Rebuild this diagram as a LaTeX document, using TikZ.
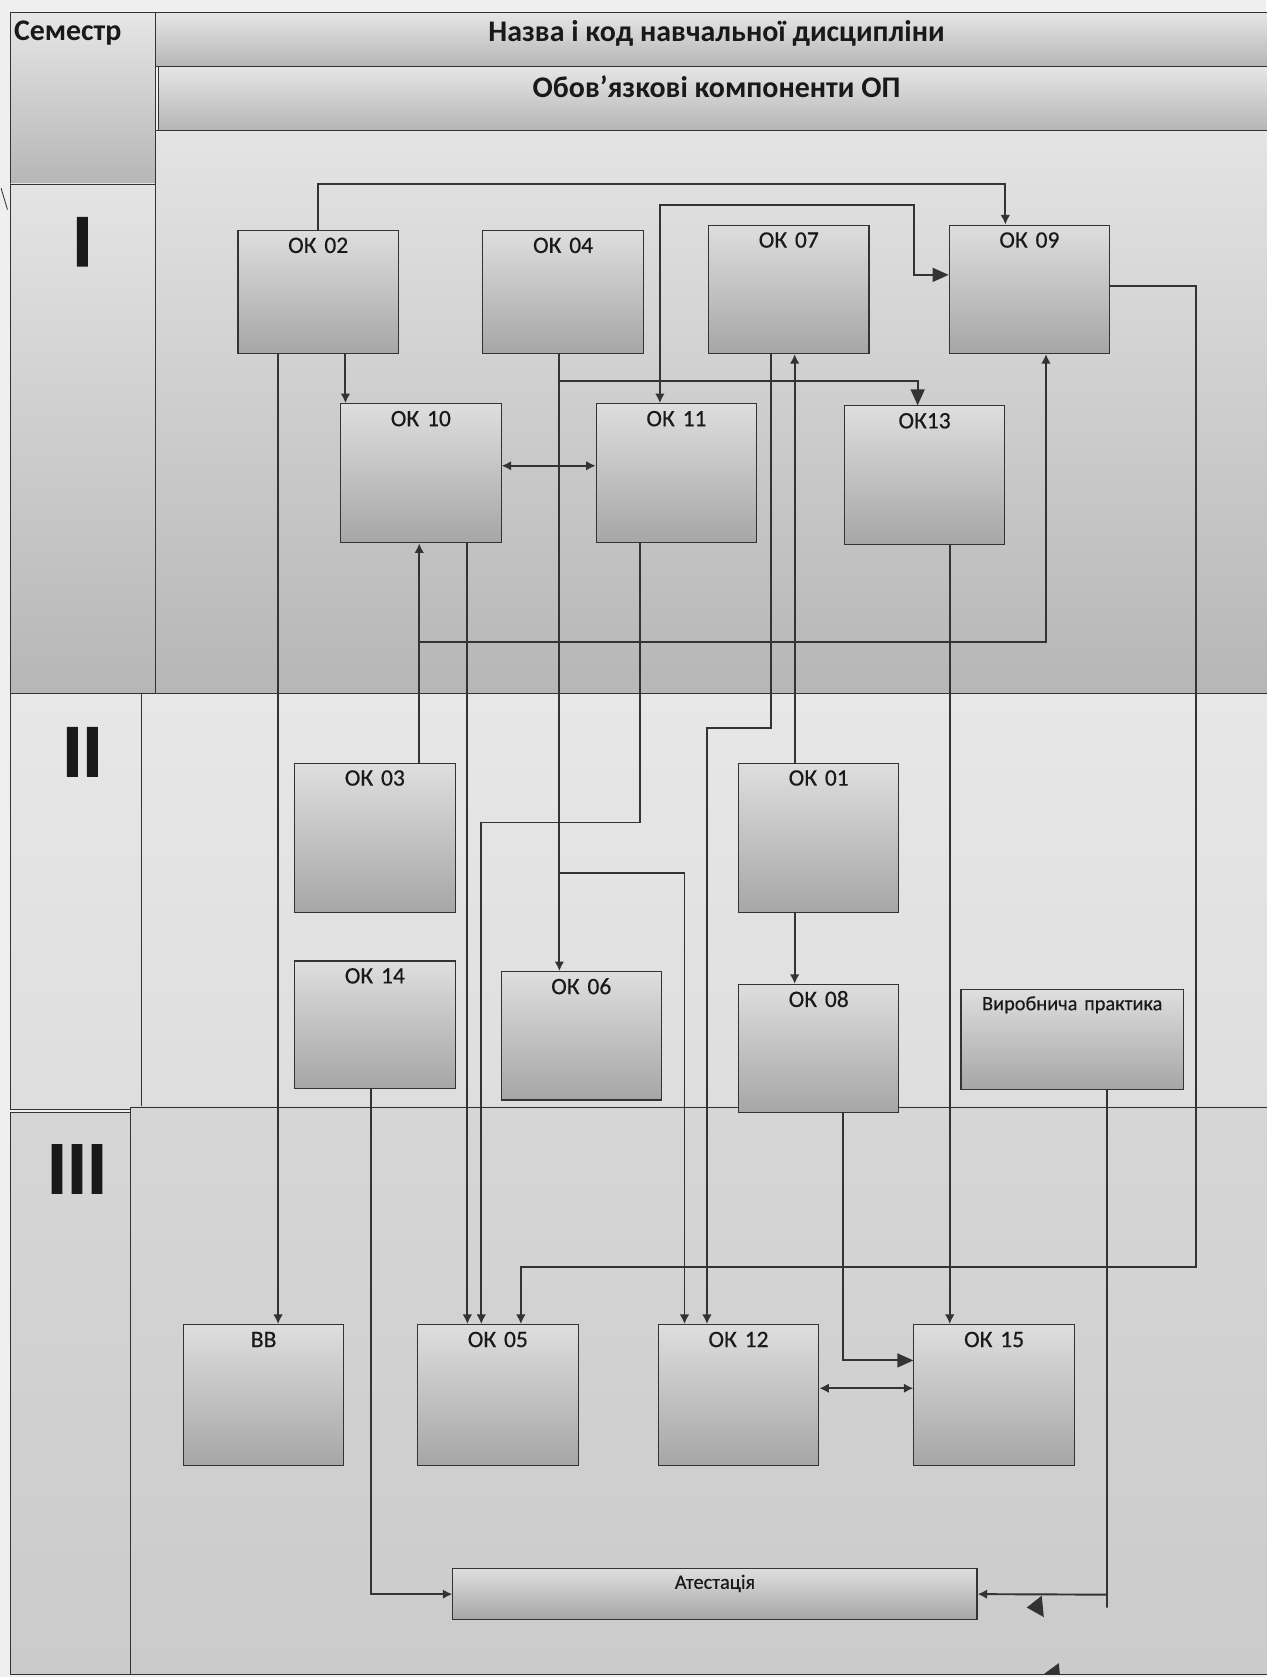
\documentclass[tikz,border=0pt]{standalone}
\usepackage{fontspec}
\setmainfont{Carlito}
\usetikzlibrary{arrows.meta}

\definecolor{pagegray}{HTML}{EFEFEF}
\definecolor{linegray}{HTML}{333333}
\definecolor{hdtop}{HTML}{E6E6E6}
\definecolor{hdbot}{HTML}{B6B6B6}
\definecolor{semItop}{HTML}{E4E4E4}
\definecolor{semIbot}{HTML}{B6B6B6}
\definecolor{semIItop}{HTML}{E7E7E7}
\definecolor{semIIbot}{HTML}{DEDEDE}
\definecolor{semIIItop}{HTML}{D6D6D6}
\definecolor{semIIIbot}{HTML}{CBCBCB}
\definecolor{boxtop}{HTML}{DEDEDE}
\definecolor{boxbot}{HTML}{A6A6A6}

\tikzset{
  okbox/.style={draw=linegray, line width=1pt, top color=boxtop, bottom color=boxbot,
    anchor=north west, text width=144pt, align=center, inner xsep=3pt, inner ysep=6pt,
    text height=15pt, text depth=#1, text=black!90,
    font=\fontsize{22}{24}\selectfont\addfontfeature{FakeBold=0.4}},
  widebox/.style 2 args={okbox=#2, text width=#1, text height=12pt, inner ysep=7pt,
    font=\fontsize{19}{21}\selectfont\addfontfeature{FakeBold=0.4}},
  hdtext/.style={text=black!90, font=\bfseries\fontsize{28}{30}\selectfont, inner sep=0pt},
  roman/.style={text=black!90, font=\bfseries\fontsize{70}{70}\selectfont\addfontfeature{FakeBold=1.6}, inner sep=0pt},
  cell/.style={draw=linegray, line width=0.8pt},
  link/.style={draw=linegray, line width=1.8pt, -{Latex[length=9pt,width=9pt]}},
  biglink/.style={link, -{Triangle[length=15pt,width=13pt]}},
  twolink/.style={link, {Latex[length=9pt,width=9pt]}-{Latex[length=9pt,width=9pt]}},
}

\begin{document}
\begin{tikzpicture}[x=1pt, y=-1pt]
    \useasboundingbox (0,0) rectangle (1184,1568);
    \fill[pagegray] (0,0) rectangle (1184,1568);

    % Header cells
    \shadedraw[cell, top color=hdtop, bottom color=hdbot] (10,12) rectangle (145,172);
    \shadedraw[cell, top color=hdtop, bottom color=hdbot] (145,12) rectangle (1190,62);
    \shadedraw[cell, top color=hdtop, bottom color=hdbot] (148,62) rectangle (1190,122);

    % Semester rows
    \shadedraw[cell, top color=semItop, bottom color=semIbot] (10,172) rectangle (145,648);
    \shadedraw[cell, top color=semItop, bottom color=semIbot] (145,122) rectangle (1190,648);
    \shadedraw[cell, top color=semIItop, bottom color=semIIbot] (10,648) rectangle (132,1037);
    \shadedraw[cell, top color=semIItop, bottom color=semIIbot] (132,648) rectangle (1190,1037);
    \shadedraw[cell, top color=semIIItop, bottom color=semIIIbot] (10,1040) rectangle (122,1566);
    \shadedraw[cell, top color=semIIItop, bottom color=semIIIbot] (122,1035) rectangle (1190,1566);

    % Header texts
    \node[hdtext, anchor=west] (semestr) at (13,31) {Семестр};
    \node[hdtext] (nazva) at (670,31) {Назва і код навчальної дисципліни};
    \node[hdtext] (oblig) at (670,81) {Обов’язкові компоненти ОП};
    \node[roman] (semI) at (77,226) {I};
    \node[roman] (semII) at (77,703) {II};
    \node[roman] (semIII) at (72,1093) {III};

    % Semester I
    \node[okbox=88] (ok02) at (222,215) {ОК 02};
    \node[okbox=88] (ok04) at (451,215) {ОК 04};
    \node[okbox=93] (ok07) at (662,210) {ОК 07};
    \node[okbox=93] (ok09) at (887,210) {ОК 09};
    \node[okbox=103] (ok10) at (318,377) {ОК 10};
    \node[okbox=103] (ok11) at (557,377) {ОК 11};
    \node[okbox=103] (ok13) at (789,379) {ОК13};

    % Semester II
    \node[okbox=113] (ok03) at (275,713) {ОК 03};
    \node[okbox=113] (ok01) at (690,713) {ОК 01};
    \node[okbox=92] (ok14) at (275,898) {ОК 14};
    \node[okbox=93] (ok06) at (468,908) {ОК 06};
    \node[okbox=93] (ok08) at (690,920) {ОК 08};
    \node[widebox={202pt}{67pt}] (vp) at (898,925) {Виробнича практика};

    % Semester III
    \node[okbox=105] (bb) at (171,1238) {ВВ};
    \node[okbox=105] (ok05) at (390,1238) {ОК 05};
    \node[okbox=105] (ok12) at (615,1238) {ОК 12};
    \node[okbox=105] (ok15) at (854,1238) {ОК 15};
    \node[widebox={484pt}{22pt}] (at) at (423,1466) {Атестація};

    % Links from semester I
    \draw[link] (ok02.north) -- ++(0,-43) -| ([xshift=53pt]ok09.north west);
    \draw[link, {Latex[length=9pt,width=9pt]}-{Triangle[length=15pt,width=13pt]}]
      ([xshift=60pt]ok11.north west) -- ++(0,-185) -- ++(238,0) |- ([yshift=-47pt]ok09.north west);
    \draw[link] ([xshift=38pt]ok02.south west) -- ([xshift=89pt]bb.north west);
    \draw[link] ([xshift=101pt]ok02.south west) -- ([xshift=5pt]ok10.north west);
    \draw[twolink] ([yshift=7pt]ok10.east) -- ([yshift=7pt]ok11.west);
    \draw[link] ([xshift=72pt]ok04.south west) -- ([xshift=55pt]ok06.north west);
    \draw[biglink] ([xshift=72pt]ok04.south west) ++(0,25) -| ([xshift=69pt]ok13.north west);
    \draw[link] ([xshift=72pt]ok04.south west) ++(0,485) -| ([xshift=25pt]ok12.north west);
    \draw[link] ([xshift=59pt]ok07.south west) -- ++(0,350) -| ([xshift=46pt]ok12.north west);
    \draw[link] ([xshift=119pt]ok10.south west) -- ([xshift=47pt]ok05.north west);
    \draw[link] ([xshift=41pt]ok11.south west) -- ++(0,261) -| ([xshift=60pt]ok05.north west);
    \draw[link] ([xshift=99pt]ok13.south west) -- ([xshift=34pt]ok15.north west);
    \draw[link] ([yshift=-57pt]ok09.north east) -- ++(80,0) -- ++(0,918) -| ([xshift=97pt]ok05.north west);

    % Links from semester II
    \draw[link] ([xshift=117pt]ok03.north west) -- ([xshift=74pt]ok10.south west);
    \draw[link] ([xshift=117pt]ok03.north west) ++(0,-113) -| ([xshift=91pt]ok09.south west);
    \draw[link] ([xshift=53pt]ok01.north west) -- ([xshift=81pt]ok07.south west);
    \draw[link] ([xshift=53pt]ok01.south west) -- ([xshift=53pt]ok08.north west);
    \draw[biglink] ([xshift=98pt]ok08.south west) |- ([yshift=-34pt]ok15.north west);
    \draw[link] ([xshift=72pt]ok14.south west) |- (at.west);
    \draw[link] ([xshift=137pt]vp.south west) -- ++(0,484) ++(0,-12) -- (at.east);

    % Semester III
    \draw[twolink] ([yshift=-60pt]ok12.north east) -- ([yshift=-60pt]ok15.north west);

    % stray marks of the scan
    \fill[linegray] (960,1503) -- (974,1492) -- (976,1512) -- cycle;
    \fill[linegray] (975,1566) -- (990,1555) -- (991,1566) -- cycle;
    \draw[linegray, line width=0.8pt] (1,176) -- (7,196);

\end{tikzpicture}
\end{document}
